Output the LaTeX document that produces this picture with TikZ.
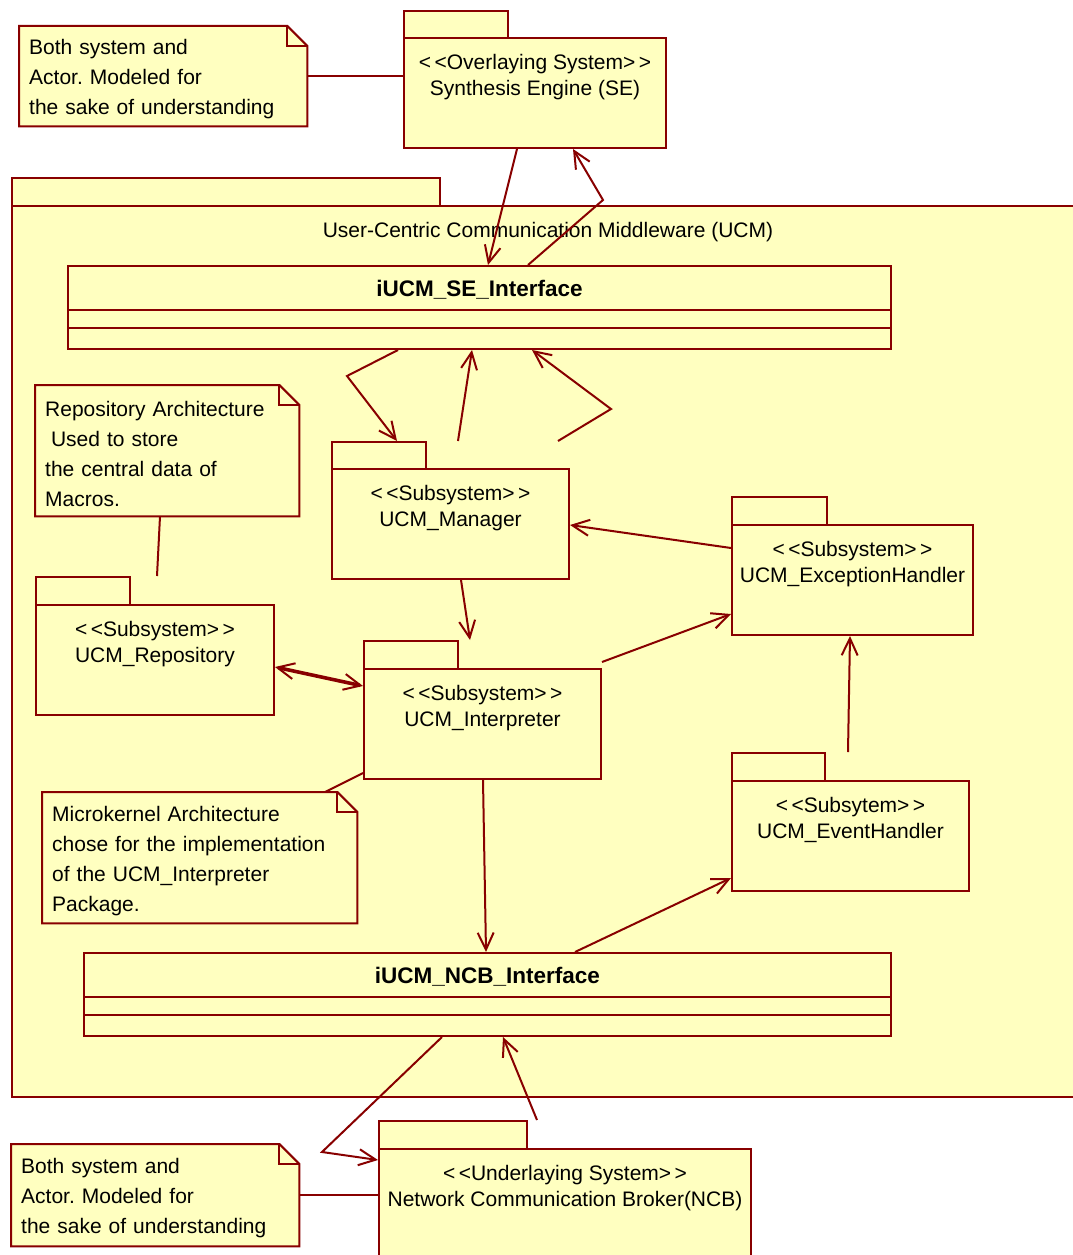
\documentclass[tikz,border=0pt]{standalone}
\usepackage{fontspec}
\setmainfont{Liberation Sans}
\usetikzlibrary{arrows.meta,calc}
\definecolor{umlline}{HTML}{880000}
\definecolor{umlfill}{HTML}{FFFFC0}
\pgfdeclarelayer{pkg}
\pgfdeclarelayer{paper}
\pgfsetlayers{pkg,paper,main}
\frenchspacing

% outline of a note with a folded top-right corner, drawn under the note text
\newcommand\notepaper[1]{%
  \begin{pgfonlayer}{paper}
    \draw[ln, fill=umlfill] (#1.north west) -- ($(#1.north east)+(-20,0)$)
      -- ($(#1.north east)+(0,20)$) -- (#1.south east) -- (#1.south west) -- cycle;
    \draw[ln] ($(#1.north east)+(-20,0)$) -- ($(#1.north east)+(-20,20)$)
      -- ($(#1.north east)+(0,20)$);
  \end{pgfonlayer}}
% taller first line so the note text sits a little lower
\newcommand\firststrut{\rule{0pt}{21pt}}

\begin{document}
\begin{tikzpicture}[x=1pt,y=-1pt,
  ln/.style={draw=umlline, line width=2pt},
  box/.style={ln, fill=umlfill, rectangle, inner sep=0pt, anchor=north west},
  pkgtxt/.style={font=\fontsize{21}{26}\selectfont, align=center, inner sep=0pt, anchor=north},
  notetxt/.style={font=\fontsize{21}{30}\selectfont, align=left, inner xsep=10pt,
    inner ysep=0pt, anchor=north west},
  ifctxt/.style={font=\fontsize{22.5}{26}\selectfont\bfseries, inner sep=0pt, anchor=base},
  conn/.style={ln, -{Straight Barb[length=17pt,width=16pt,line width=2pt]}},
  link/.style={ln},
]
\useasboundingbox (0,0) rectangle (1073,1255);

% ---------- the UCM package that holds the middleware ----------
\begin{pgfonlayer}{pkg}
  \fill[white] (0,0) rectangle (1073,1255);
  \node[box, minimum width=428, minimum height=28] (ucmtab) at (11,177) {};
  \node[box, minimum width=1072, minimum height=891] (ucm) at (11,205) {};
\end{pgfonlayer}
\node[font=\fontsize{21}{26}\selectfont, inner sep=0pt, anchor=base] (ucmtitle)
  at ($(ucm.north)+(0,32)$) {User-Centric Communication Middleware (UCM)};

% ---------- Synthesis Engine ----------
\node[box, minimum width=104, minimum height=27] (setab) at (403,10) {};
\node[box, minimum width=262, minimum height=110] (se) at (403,37) {};
\node[pkgtxt] (setxt) at ($(se.north)+(0,17)$)
  {<\,<Overlaying System>\,>\\Synthesis Engine (SE)};

\node[notetxt, text width=268pt, minimum height=100pt] (n1) at (19,26)
  {\firststrut Both system and\\Actor. Modeled for\\the sake of understanding};
\notepaper{n1}

% ---------- interface towards SE ----------
\node[box, minimum width=823, minimum height=83] (sei) at (67,265) {};
\draw[ln] ($(sei.north west)+(0,45)$) -- ($(sei.north east)+(0,45)$);
\draw[ln] ($(sei.north west)+(0,63)$) -- ($(sei.north east)+(0,63)$);
\node[ifctxt] (seititle) at ($(sei.north)+(0,31)$) {iUCM\_SE\_Interface};

% ---------- subsystems ----------
\node[box, minimum width=94, minimum height=27] (mgrtab) at (331,441) {};
\node[box, minimum width=237, minimum height=110] (mgr) at (331,468) {};
\node[pkgtxt] (mgrtxt) at ($(mgr.north)+(0,17)$) {<\,<Subsystem>\,>\\UCM\_Manager};

\node[box, minimum width=94, minimum height=28] (reptab) at (35,576) {};
\node[box, minimum width=238, minimum height=110] (rep) at (35,604) {};
\node[pkgtxt] (reptxt) at ($(rep.north)+(0,17)$) {<\,<Subsystem>\,>\\UCM\_Repository};

\node[box, minimum width=94, minimum height=28] (itptab) at (363,640) {};
\node[box, minimum width=237, minimum height=110] (itp) at (363,668) {};
\node[pkgtxt] (itptxt) at ($(itp.north)+(0,17)$) {<\,<Subsystem>\,>\\UCM\_Interpreter};

\node[box, minimum width=95, minimum height=28] (exctab) at (731,496) {};
\node[box, minimum width=241, minimum height=110] (exc) at (731,524) {};
\node[pkgtxt] (exctxt) at ($(exc.north)+(0,17)$) {<\,<Subsystem>\,>\\UCM\_ExceptionHandler};

\node[box, minimum width=93, minimum height=28] (evttab) at (731,752) {};
\node[box, minimum width=237, minimum height=110] (evt) at (731,780) {};
\node[pkgtxt] (evttxt) at ($(evt.north)+(0,17)$) {<\,<Subsytem>\,>\\UCM\_EventHandler};

% ---------- notes inside the middleware ----------
\node[notetxt, text width=244pt, minimum height=131pt] (n2) at (35,385)
  {\firststrut Repository Architecture\\\hspace*{0.28em}Used to store\\the central data of\\Macros.};
\notepaper{n2}
\node[notetxt, text width=295pt, minimum height=131pt] (n3) at (42,792)
  {\firststrut Microkernel Architecture\\chose for the implementation\\of the UCM\_Interpreter\\Package.};
\notepaper{n3}

% ---------- interface towards NCB ----------
\node[box, minimum width=807, minimum height=83] (ncbi) at (83,952) {};
\draw[ln] ($(ncbi.north west)+(0,45)$) -- ($(ncbi.north east)+(0,45)$);
\draw[ln] ($(ncbi.north west)+(0,63)$) -- ($(ncbi.north east)+(0,63)$);
\node[ifctxt] (ncbititle) at ($(ncbi.north)+(0,31)$) {iUCM\_NCB\_Interface};

% ---------- Network Communication Broker ----------
\node[box, minimum width=148, minimum height=28] (ncbtab) at (378,1120) {};
\node[box, minimum width=372, minimum height=130] (ncb) at (378,1148) {};
\node[pkgtxt] (ncbtxt) at ($(ncb.north)+(0,17)$)
  {<\,<Underlaying System>\,>\\Network Communication Broker(NCB)};

\node[notetxt, text width=268pt, minimum height=102pt] (n4) at (11,1144)
  {\firststrut Both system and\\Actor. Modeled for\\the sake of understanding};
\notepaper{n4}

% ---------- bend points ----------
\coordinate (b1) at (603,200);
\coordinate (b2) at (347,376);
\coordinate (b3) at (611,409);
\coordinate (b4) at (322,1152);

% ---------- connectors ----------
\draw[link] (n1.east) -- (n1.east -| se.west);
\draw[conn] ($(se.south west)+(114,0)$) -- ($(sei.north west)+(421,0)$);
\draw[conn] ($(sei.north west)+(461,0)$) -- (b1) -- ($(se.south west)+(170,0)$);

\draw[conn] ($(sei.south west)+(331,0)$) -- (b2) -- ($(mgrtab.north west)+(66,0)$);
\draw[conn] ($(mgrtab.north west)+(127,0)$) -- ($(sei.south west)+(405,0)$);
\draw[conn] ($(mgrtab.north west)+(227,0)$) -- (b3) -- ($(sei.south west)+(465,0)$);

\draw[conn] ($(exc.north west)+(0,24)$) -- ($(mgr.north east)+(0,57)$);
\draw[conn] ($(mgr.south west)+(130,0)$) -- ($(itptab.north west)+(107,0)$);
\draw[ln, line width=3.6pt,
  {Straight Barb[length=17pt,width=16pt,line width=2pt]}-{Straight Barb[length=17pt,width=16pt,line width=2pt]}]
  ($(rep.north east)+(0,63)$) -- ($(itp.north west)+(0,18)$);
\draw[link] ($(n2.south west)+(125,0)$) -- ($(reptab.north west)+(122,0)$);

\draw[conn] ($(itp.north east)+(0,-6)$) -- ($(exc.south west)+(0,-22)$);
\draw[conn] ($(evttab.north west)+(117,0)$) -- ($(exc.south west)+(119,0)$);
\draw[link] ($(n3.north west)+(283,0)$) -- ($(itp.south west)+(0,-7)$);

\draw[conn] ($(itp.south west)+(120,0)$) -- ($(ncbi.north west)+(403,0)$);
\draw[conn] ($(ncbi.north west)+(492,0)$) -- ($(evt.south west)+(0,-14)$);

\draw[conn] ($(ncbi.south west)+(359,0)$) -- (b4) -- ($(ncb.north west)+(0,12)$);
\draw[conn] ($(ncbtab.north west)+(159,0)$) -- ($(ncbi.south west)+(420,0)$);
\draw[link] (n4.east) -- (n4.east -| ncb.west);
\end{tikzpicture}
\end{document}
